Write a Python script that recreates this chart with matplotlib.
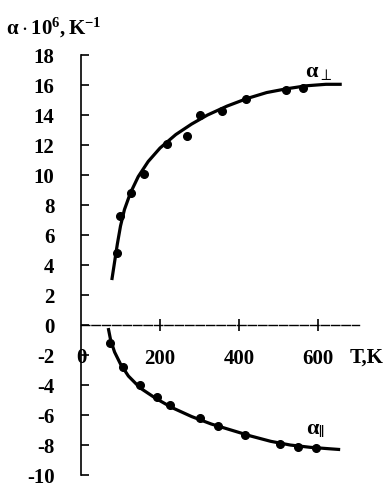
import matplotlib.pyplot as plt

plt.rcParams['mathtext.fontset'] = 'custom'
plt.rcParams['mathtext.rm'] = 'Liberation Serif:bold'
plt.rcParams['mathtext.it'] = 'Liberation Serif:bold'
plt.rcParams['mathtext.bf'] = 'Liberation Serif:bold'
plt.rcParams['mathtext.fallback'] = 'stix'

# measured points (T in K, alpha * 1e6 in 1/K)
t_perp = [91, 99, 127, 160, 218, 268, 301, 357, 418, 519, 562]
a_perp = [4.8, 7.3, 8.8, 10.1, 12.1, 12.6, 14.0, 14.3, 15.1, 15.7, 15.8]

t_par = [73, 106, 149, 192, 225, 301, 347, 415, 504, 550, 595]
a_par = [-1.2, -2.8, -4.0, -4.8, -5.3, -6.2, -6.7, -7.3, -7.9, -8.1, -8.2]

# smooth curves
curve_t_perp = [78, 85, 92, 100, 110, 125, 145, 170, 200, 240, 280, 320, 370, 420, 470, 520, 570, 620, 660]
curve_a_perp = [3.0, 4.2, 5.4, 6.6, 7.7, 8.8, 9.9, 10.9, 11.8, 12.7, 13.4, 14.0, 14.6, 15.1, 15.5, 15.75, 15.95, 16.05, 16.05]

curve_t_par = [69, 75, 85, 100, 120, 150, 190, 230, 280, 330, 380, 430, 480, 530, 580, 630, 656]
curve_a_par = [-0.2, -1.0, -1.8, -2.6, -3.4, -4.2, -4.9, -5.5, -6.1, -6.6, -7.0, -7.4, -7.75, -8.0, -8.15, -8.25, -8.3]

yticks = list(range(-10, 19, 2))
xticks = [200, 400, 600]

font = {'family': 'Liberation Serif', 'weight': 'bold', 'size': 15}

fig = plt.figure(figsize=(3.86, 4.83), dpi=100)
ax = fig.add_axes([0, 0, 1, 1])
ax.set_xlim(-205, 772)
ax.set_ylim(-10.53, 21.67)
ax.patch.set_visible(False)

ax.spines['top'].set_visible(False)
ax.spines['right'].set_visible(False)
ax.spines['left'].set_position(('data', 0))
ax.spines['bottom'].set_position(('data', 0))
ax.spines['left'].set_bounds(-10, 18)
ax.spines['bottom'].set_bounds(0, 703)
ax.spines['left'].set_linewidth(1.2)
ax.spines['bottom'].set_linewidth(1.0)
ax.spines['bottom'].set_linestyle((0, (6, 1.5)))

ax.set_yticks(yticks)
ax.set_yticklabels([str(v) for v in yticks], fontdict=font)
ax.tick_params(axis='y', direction='in', length=6, width=1.2, pad=19)

ax.set_xticks(xticks)
ax.set_xticklabels([str(v) for v in xticks], fontdict=font)
ax.tick_params(axis='x', direction='inout', length=9, width=1.2, pad=13)

ax.plot(curve_t_perp, curve_a_perp, color='black', lw=2.3, solid_capstyle='butt')
ax.plot(curve_t_par, curve_a_par, color='black', lw=2.3, solid_capstyle='butt')
ax.plot(t_perp, a_perp, 'o', color='black', ms=5.5)
ax.plot(t_par, a_par, 'o', color='black', ms=5.5)

ax.text(0, -2.2, '0', ha='center', va='center', **font)
ax.text(680, -2.2, 'T,K', ha='left', va='center', **font)
ax.text(-190, 19.8, r'$\mathrm{α\cdot10^{6},K^{-1}}$', ha='left', va='center', fontsize=15)
ax.text(566, 16.2, r'$\mathrm{α_{\perp}}$', ha='left', va='bottom', fontsize=16)
ax.text(570, -6.9, r'$\mathrm{α_{\Vert}}$', ha='left', va='center', fontsize=16)

fig.savefig('out.png', dpi=100)
